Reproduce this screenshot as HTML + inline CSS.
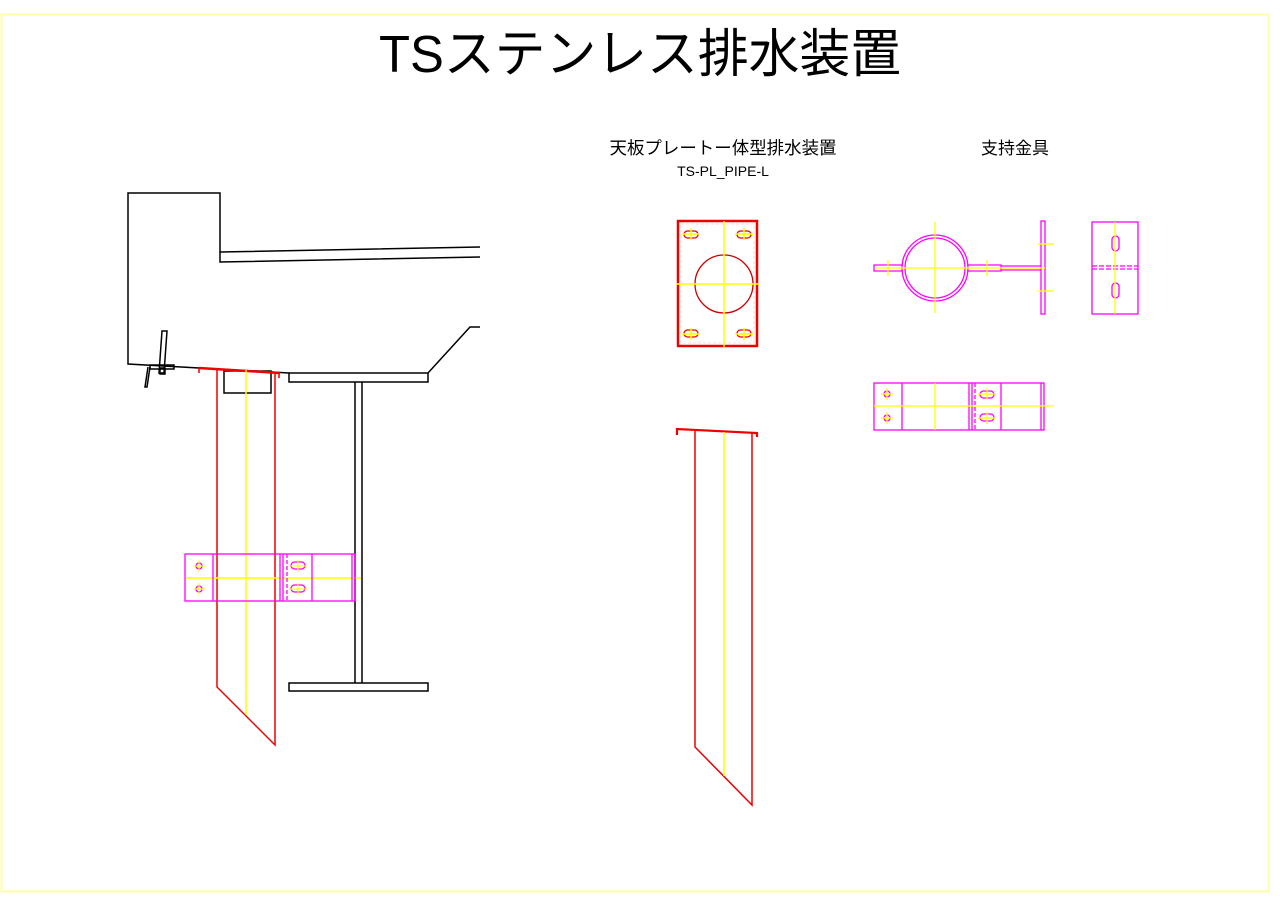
<!DOCTYPE html>
<html><head><meta charset="utf-8"><style>html,body{margin:0;padding:0;background:#fff}svg{display:block}</style></head><body>
<svg width="1280" height="905" viewBox="0 0 1280 905" xmlns="http://www.w3.org/2000/svg" font-family="'Liberation Sans','Noto Sans CJK JP',sans-serif">
<rect x="1.5" y="14.5" width="1267" height="877" fill="none" stroke="#ffffa8" stroke-width="2"/>
<text x="640" y="72" font-size="52" text-anchor="middle" textLength="522" lengthAdjust="spacingAndGlyphs" fill="#000">TSステンレス排水装置</text>
<text x="723" y="154" font-size="17.5" text-anchor="middle" textLength="227" lengthAdjust="spacingAndGlyphs" fill="#000">天板プレートー体型排水装置</text>
<text x="723" y="176" font-size="14" text-anchor="middle" fill="#000">TS-PL_PIPE-L</text>
<text x="1015" y="154" font-size="17" text-anchor="middle" fill="#000">支持金具</text>

<!-- left structure -->
<g fill="none" stroke="#000" stroke-width="1.5">
<polyline points="480,247 220,252 220,193 128,193 128,364 289,373"/>
<polyline points="220,252 220,262 480,257"/>
<rect x="289" y="373" width="139" height="9"/>
<polyline points="428,373 470,327 480,327"/>
<rect x="224" y="371" width="47" height="22"/>
<line x1="355" y1="382" x2="355" y2="683"/><line x1="362" y1="382" x2="362" y2="683"/>
<rect x="289" y="683" width="139" height="8"/>
<polygon points="162,331 167,331 164,373 159,373"/>
<polyline points="148,367 145,387 147,387 150,367"/>
<rect x="150" y="365" width="24" height="4"/>
<rect x="160" y="368" width="5" height="6"/>
</g>
<g fill="none" stroke="#e00" stroke-width="1.5">
<line x1="199" y1="368" x2="280" y2="373" stroke-width="2.5"/>
<line x1="199" y1="368" x2="199" y2="373"/><line x1="279" y1="373" x2="279" y2="378"/>
<polyline points="217,370 217,687 275,745 275,372"/>
</g>
<g stroke="#ff0" stroke-width="1.5" fill="none">
<line x1="246" y1="370" x2="246" y2="715"/>
<line x1="186" y1="578" x2="361" y2="578"/>
</g>
<g fill="none" stroke="#f0f" stroke-width="1.3">
<rect x="185" y="554" width="170" height="47"/>
<line x1="213" y1="554" x2="213" y2="601"/><line x1="280" y1="554" x2="280" y2="601"/>
<line x1="283" y1="554" x2="283" y2="601"/><line x1="312" y1="554" x2="312" y2="601"/>
<line x1="352" y1="554" x2="352" y2="601"/>
<line x1="287" y1="554" x2="287" y2="601" stroke-dasharray="4,2"/>
<circle cx="199" cy="566" r="3"/><circle cx="199" cy="589" r="3"/>
<rect x="291" y="562" width="14" height="7" rx="3.5"/><rect x="291" y="585" width="14" height="7" rx="3.5"/>
</g>
<g stroke="#ff0" stroke-width="1">
<line x1="193" y1="566" x2="205" y2="566"/><line x1="199" y1="560" x2="199" y2="572"/>
<line x1="193" y1="589" x2="205" y2="589"/><line x1="199" y1="583" x2="199" y2="595"/>
<line x1="289" y1="566" x2="307" y2="566"/><line x1="298" y1="560" x2="298" y2="572"/>
<line x1="289" y1="589" x2="307" y2="589"/><line x1="298" y1="583" x2="298" y2="595"/>
</g>

<!-- middle plate -->
<g fill="none" stroke="#e00">
<rect x="678" y="221" width="79" height="125" stroke-width="2.5"/>
<rect x="681" y="224" width="73" height="119" stroke-width="0.8" stroke-dasharray="3,2" stroke="#fcc"/>
<circle cx="724" cy="284" r="29" stroke-width="1.3" stroke="#c00"/>
<rect x="684" y="231" width="14" height="7" rx="3.5" stroke-width="1.3"/>
<rect x="737" y="231" width="14" height="7" rx="3.5" stroke-width="1.3"/>
<rect x="684" y="330" width="14" height="7" rx="3.5" stroke-width="1.3"/>
<rect x="737" y="330" width="14" height="7" rx="3.5" stroke-width="1.3"/>
</g>
<g stroke="#ff0" stroke-width="1.5">
<line x1="724" y1="221" x2="724" y2="347"/><line x1="676" y1="284" x2="759" y2="284"/>
<line x1="682" y1="234" x2="700" y2="234"/><line x1="691" y1="228" x2="691" y2="240"/>
<line x1="735" y1="234" x2="753" y2="234"/><line x1="744" y1="228" x2="744" y2="240"/>
<line x1="682" y1="334" x2="700" y2="334"/><line x1="691" y1="328" x2="691" y2="340"/>
<line x1="735" y1="334" x2="753" y2="334"/><line x1="744" y1="328" x2="744" y2="340"/>
</g>
<!-- middle pipe -->
<g fill="none" stroke="#e00" stroke-width="1.5">
<polyline points="677,435 677,429 757,433 757,437" stroke-width="2.2"/>
<polyline points="695,431 695,747 752,805 752,433"/>
</g>
<line x1="724" y1="432" x2="724" y2="776" stroke="#ff0" stroke-width="1.5"/>

<!-- right clamp top view -->
<g fill="none" stroke="#f0f" stroke-width="1.3">
<circle cx="935" cy="268" r="33"/><circle cx="935" cy="268" r="30"/>
<polyline points="903,265 874,265 874,271 903,271"/>
<polyline points="967,265 1001,265 1001,271 967,271"/>
<line x1="1001" y1="266" x2="1041" y2="266"/><line x1="1001" y1="270" x2="1041" y2="270"/>
<rect x="1041" y="221" width="4" height="93"/>
<rect x="1092" y="222" width="46" height="92"/>
<line x1="1092" y1="266" x2="1138" y2="266" stroke-dasharray="5,2"/>
<line x1="1092" y1="269" x2="1138" y2="269" stroke-dasharray="5,2"/>
<rect x="1112" y="236" width="7" height="15" rx="3.5"/>
<rect x="1112" y="283" width="7" height="15" rx="3.5"/>
</g>
<g stroke="#ff0" stroke-width="1.3">
<line x1="935" y1="222" x2="935" y2="313"/><line x1="876" y1="268" x2="1045" y2="268"/>
<line x1="888" y1="260" x2="888" y2="276"/><line x1="987" y1="260" x2="987" y2="276"/>
<line x1="1038" y1="244" x2="1054" y2="244"/><line x1="1038" y1="291" x2="1054" y2="291"/>
<line x1="1115" y1="222" x2="1115" y2="314"/>
</g>
<!-- right bottom band -->
<g fill="none" stroke="#f0f" stroke-width="1.3">
<rect x="874" y="383" width="170" height="47"/>
<line x1="902" y1="383" x2="902" y2="430"/><line x1="969" y1="383" x2="969" y2="430"/>
<line x1="972" y1="383" x2="972" y2="430"/><line x1="1001" y1="383" x2="1001" y2="430"/>
<line x1="1041" y1="383" x2="1041" y2="430"/>
<line x1="975" y1="383" x2="975" y2="430" stroke-dasharray="4,2"/>
<circle cx="887" cy="394" r="3"/><circle cx="887" cy="418" r="3"/>
<rect x="980" y="391" width="14" height="7" rx="3.5"/><rect x="980" y="414" width="14" height="7" rx="3.5"/>
</g>
<g stroke="#ff0" stroke-width="1.3">
<line x1="874" y1="406" x2="1054" y2="406"/><line x1="935" y1="383" x2="935" y2="430"/>
<line x1="881" y1="394" x2="893" y2="394"/><line x1="887" y1="388" x2="887" y2="400"/>
<line x1="881" y1="418" x2="893" y2="418"/><line x1="887" y1="412" x2="887" y2="424"/>
<line x1="978" y1="394" x2="996" y2="394"/><line x1="987" y1="388" x2="987" y2="400"/>
<line x1="978" y1="418" x2="996" y2="418"/><line x1="987" y1="412" x2="987" y2="424"/>
</g>
</svg>
</body></html>
